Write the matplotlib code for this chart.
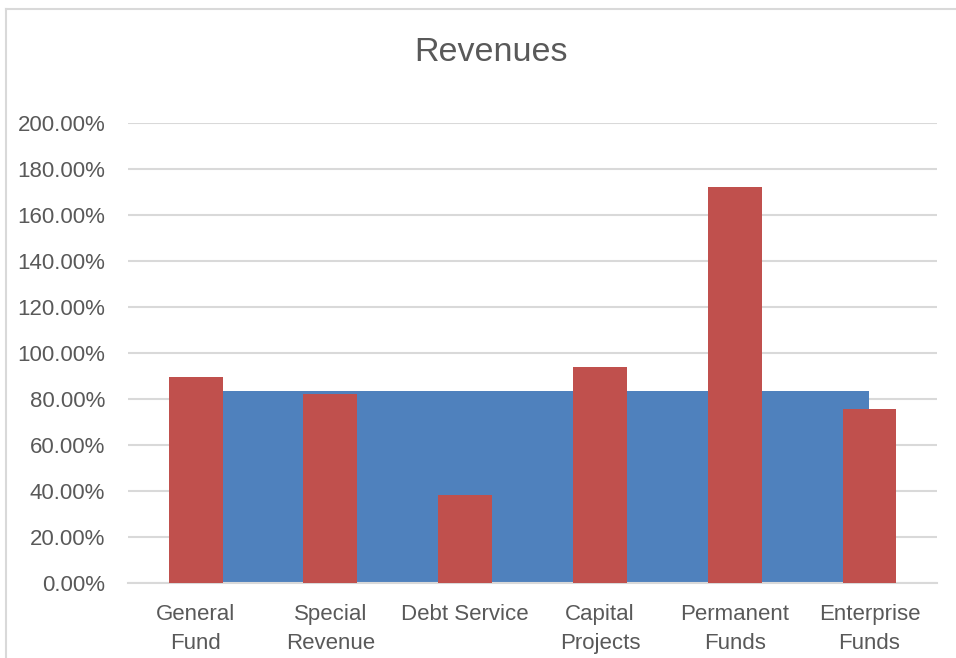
import numpy as np
import matplotlib
matplotlib.use('Agg')
import matplotlib.pyplot as plt
from matplotlib.ticker import FuncFormatter, MultipleLocator
from matplotlib.lines import Line2D

categories = ['General\nFund', 'Special\nRevenue', 'Debt Service',
              'Capital\nProjects', 'Permanent\nFunds', 'Enterprise\nFunds']
actual_pct = [89.4, 82.3, 38.2, 93.9, 171.9, 75.5]
target_pct = [83.33, 83.33, 83.33, 83.33, 83.33, 83.33]

plt.rcParams['font.family'] = ['Liberation Sans', 'DejaVu Sans']
text_color = '#595959'
grid_color = '#D9D9D9'

fig = plt.figure(figsize=(9.56, 6.58), dpi=100)
ax = fig.add_axes([0.1341, 0.1135, 0.8459, 0.7003])

x = np.arange(len(categories))
ax.fill_between(x, 0, target_pct, color='#4F81BD', linewidth=0, zorder=2)
ax.bar(x, actual_pct, width=0.4, color='#C0504D', zorder=3)

ax.set_xlim(-0.5, len(categories) - 0.5)
ax.set_ylim(0, 200)
ax.yaxis.set_major_locator(MultipleLocator(20))
ax.yaxis.set_major_formatter(FuncFormatter(lambda v, p: '{:.2f}%'.format(v)))
ax.grid(axis='y', color=grid_color, linewidth=1.5, zorder=1)
ax.set_axisbelow(True)

ax.set_xticks(x)
ax.set_xticklabels(categories, linespacing=1.52)
ax.tick_params(axis='x', length=0, pad=15, labelsize=16, labelcolor=text_color)
ax.tick_params(axis='y', length=0, pad=16.5, labelsize=16, labelcolor=text_color)
for s in ['top', 'right', 'left']:
    ax.spines[s].set_visible(False)
ax.spines['bottom'].set_color(grid_color)
ax.spines['bottom'].set_linewidth(1.5)

fig.text(0.5136, 1 - 52.5 / 658, 'Revenues', fontsize=24.5, color=text_color,
         ha='center', va='center')

# chart frame (top and left edges visible)
fig.add_artist(Line2D([6 / 956, 1], [1 - 8.5 / 658, 1 - 8.5 / 658],
                      transform=fig.transFigure, color=grid_color, linewidth=1.5))
fig.add_artist(Line2D([6 / 956, 6 / 956], [0, 1 - 8.5 / 658],
                      transform=fig.transFigure, color=grid_color, linewidth=1.5))

fig.savefig('out.png', dpi=100)
